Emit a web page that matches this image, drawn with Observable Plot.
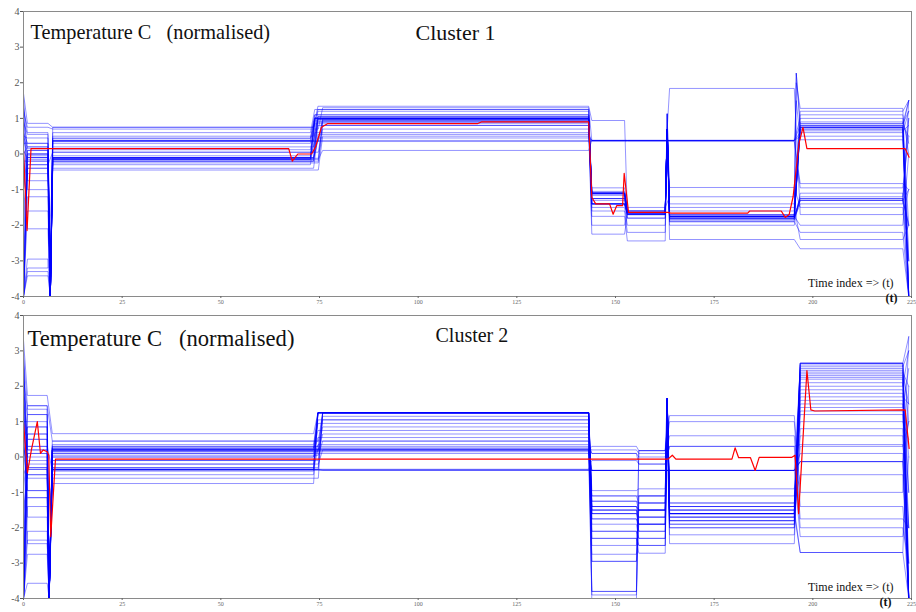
<!DOCTYPE html>
<html><head><meta charset="utf-8">
<script src="https://cdn.jsdelivr.net/npm/d3@7"></script>
<script src="https://cdn.jsdelivr.net/npm/@observablehq/plot@0.6"></script>
<style>body{margin:0;background:#fff} #chart svg{display:block}</style>
</head><body><div id="chart"></div>
<script>
const xTicks = [0, 25, 50, 75, 100, 125, 150, 175, 200, 225];
const yTicks = [-4, -3, -2, -1, 0, 1, 2, 3, 4];
const titleText = "Temperature C\u00a0\u00a0\u00a0(normalised)";
const clusterNames = ["Cluster 1", "Cluster 2"];
const timeLabel = "Time index => (t)";
const tLabel = "(t)";

// segment times (time index) where the step levels hold, per cluster
const cluster1Knots = {e0: 1, e1: 6.2, sp: 6.8, m0: 7.4, b4: 152.3, b5: 153};
const cluster2Knots = {e0: 1, e1: 6.0, sp: 6.5, m0: 7.3, b4: 155.3, b5: 155.9};

// each row: [t0, lvl 1-6, dip@6.7, lvl 7-73, step time, lvl 75-143, lvl 144-152, lvl 153-162, spike@163, lvl 164-195, spike@195.8, lvl 197-222, end]
const cluster1Lines = [
  [1.7, 0.86, null, 0.75, 74.6, 1.34, 0.94, -1.65, 0.7, -1.75, null, 0.75, 1.5],
  [1.2, 0.75, null, 0.7, 75.8, 1.3, 0.38, 0.38, null, 0.38, null, 0.8, 0.5],
  [0.9, 0.55, -4, 0.6, 73.8, 1.25, -1.1, -1.65, 0.7, -1.75, null, 0.75, -4],
  [0.5, 0.45, -4, 0.5, 74.6, 1.2, -1.1, -1.6, 0.7, -1.8, 2.27, 0.85, 1.2],
  [0.3, 0.3, -4, 0.43, 73.8, 1.1, -1.15, -1.65, 0.7, -1.75, null, 0.7, -3.9],
  [0, 0.2, -4, 0.38, 74.6, 1.05, -1.25, -1.7, 0.7, -1.85, null, -1.3, 1.0],
  [-0.5, 0.1, -4, 0.35, 75.8, 1.0, -1.4, -1.65, 0.7, -1.8, null, -1.25, -3],
  [-1, 0, -4, 0.3, 73.8, 1.0, -1.4, -1.8, 0.7, -1.9, 2.27, 0.75, -2],
  [-2, -0.1, -4, 0.2, 74.6, 0.97, -1.1, -1.65, 0.7, -1.75, null, 0.9, 0.3],
  [-4, -0.2, -4, 0.12, 73.8, 0.95, -1.5, -2.0, 1.13, -2.0, null, -1.1, -4],
  [-4, -0.3, null, 0.05, 74.6, 1.0, -1.05, -1.65, 0.7, -1.7, null, 0.65, 0.8],
  [-3, -0.4, -4, -0.05, 73.8, 1.02, -1.1, -1.6, 0.7, -1.75, null, -1.3, -1],
  [-1.5, -0.55, -4, -0.1, 74.6, 1.0, -1.3, -1.7, 0.7, -1.8, null, 0.8, -4],
  [0.8, -0.75, -4, -0.12, 75.8, 0.9, -1.6, -2.2, 0.7, -2.4, null, -2.66, -4],
  [1.4, -1.0, -4, -0.15, 73.8, 0.85, -1.75, -2.44, 1.13, -1.5, null, -2.4, -2],
  [-4, -1.2, -4, -0.2, 74.6, 0.8, -2.0, -1.65, 0.7, -1.6, 2.0, 1.28, -3],
  [-4, -1.6, -4, -0.25, 75.8, 0.7, -2.25, -1.7, 0.7, -1.4, null, 1.2, 1.5],
  [0.2, -2.1, -4, -0.3, 73.8, 0.6, -0.95, -1.5, null, -1.2, null, 1.1, 0],
  [-4, -2.95, -4, -0.4, 74.6, 0.55, 0.38, 0.38, null, 0.38, null, 1.0, -4],
  [-4, -3.2, null, -0.45, 75.8, 0.5, 0.38, 0.38, null, 0.38, null, 0.6, 1.2],
  [-4, -3.3, -4, -0.15, 74.6, 0.45, 0.38, 0.38, null, 0.38, null, 0.5, -4],
  [-4, -3.42, -4, -0.1, 73.8, 0.35, 0.38, 0.38, null, 0.38, null, -0.83, -1],
  [1.0, 0.2, -4, -0.12, 74.6, 0.38, 0.35, 0.35, null, 0.35, null, -0.95, 0.5],
  [0.5, 0.15, -4, -0.15, 75.8, 0.1, 0.38, 0.38, null, 0.38, 1.5, 0.4, -4],
  [-2.5, 0.0, -4, -0.1, 73.8, 1.0, -1.1, -1.65, 0.7, -1.75, null, -1.2, 1.0],
  [1.6, -0.1, -4, 0.35, 74.6, 1.05, -1.4, -1.65, 0.7, -1.85, null, 0.75, -3],
  [-0.2, -0.2, -4, 0.38, 75.8, 0.95, -1.1, -1.65, 0.7, -1.75, null, -1.3, -2],
  [0.6, 0.3, -4, -0.12, 73.8, 1.0, -1.15, -1.6, 0.7, -1.7, null, 0.7, -4],
  [-4, -0.3, -4, -0.2, 74.6, 0.9, -1.4, -1.7, 0.7, -1.8, null, -1.4, 1.5],
  [-1, 0.1, -4, 0.45, 73.8, 1.1, -1.25, -1.65, 0.7, -0.94, null, -1.5, -4],
  [-3.5, -0.4, -4, 0.05, 75.8, 0.8, -1.1, -1.8, 0.7, 1.84, null, -1.7, -1],
  [1.3, 0.6, -4, 0.75, 74.6, 1.25, -1.4, -1.65, 0.7, -1.75, null, -2.0, 0],
  [0.1, -0.15, -4, -0.15, 73.8, 1.0, -1.1, -1.6, 0.7, -1.9, null, -2.2, -4],
  [-4, -0.1, -4, -0.1, 74.6, 0.97, -1.25, -1.65, 0.7, -1.75, null, 0.85, 1.5],
  [0.4, 0.0, -4, -0.2, 75.8, 0.95, -1.1, -1.65, 1.13, -1.75, null, 0.75, -4],
  [-4, -0.05, -4, 0.38, 73.8, 0.9, -1.4, -1.7, 0.7, -1.8, null, -1.25, -2]
];

const cluster2Lines = [
  [3.3, 1.74, null, 0.66, 74.6, 1.25, -0.95, -0.9, 1.65, -1.3, null, 2.65, 3.4],
  [2.8, 1.45, null, 0.45, 75.8, 1.25, -1.1, -1.1, 1.65, -1.5, null, 2.65, 1],
  [2.2, 1.35, -4, 0.35, 74.6, 1.25, -1.25, -1.3, 1.65, -1.6, null, 2.5, -4],
  [1.8, 1.2, -4, 0.3, 75.8, 1.15, -1.4, -1.5, 1.65, -1.7, null, 2.4, 2],
  [1.0, 1.0, -4, 0.25, 74.6, 1.05, -1.5, -1.7, 1.65, -1.8, null, 2.3, -2],
  [0.5, 0.85, -4, 0.2, 74.6, 0.95, -1.6, -1.9, 1.65, -1.9, null, 2.2, 0],
  [0, 0.65, -4, 0.2, 75.8, 0.85, -1.75, -2.1, 1.0, -2.0, null, 2.1, -4],
  [-1, 0.5, -4, 0.2, 74.6, 0.75, -1.9, -2.3, 0.8, -2.2, null, 2.0, 3],
  [-2, 0.3, -4, 0.15, 75.8, 0.65, -2.1, -2.5, 0.8, -2.45, null, 1.9, -3],
  [-4, 0.1, -4, 0.1, 74.6, 0.55, -2.3, -2.72, 1.65, -1.6, null, 1.8, -4],
  [-4, -0.1, -4, 0.05, 75.8, 0.45, -2.5, -1.5, 1.65, -1.6, null, 1.7, 1.5],
  [-3, -0.3, -4, 0, 74.6, 0.35, -2.75, -1.7, 1.65, -1.4, null, 1.6, -1],
  [-1.5, -0.5, -4, -0.1, 74.6, 0.25, -2.95, -1.9, 1.65, -1.5, null, 1.5, -4],
  [3.0, -0.6, -4, -0.2, 75.8, 0.2, -3.8, -1.3, 1.65, -1.7, null, 1.4, 2.5],
  [2.5, -0.95, -4, -0.3, 74.6, 0.2, -4.05, -1.1, 1.65, -1.9, null, 1.3, -2],
  [-4, -1.15, -4, -0.35, 74.6, 1.25, -3.9, 0.18, 0.8, -1.1, null, 1.2, -4],
  [-4, -1.4, -4, -0.35, 75.8, 1.25, -1.5, -2.1, 1.65, -0.9, null, 1.0, 0.5],
  [1.5, -1.7, -4, -0.4, 74.6, 1.25, -1.6, -1.7, 1.65, -2.0, null, 0.8, -4],
  [-4, -2.1, -4, -0.5, 74.6, 1.25, -1.4, -1.5, 1.65, -1.6, null, 0.6, -3],
  [-4, -2.35, -4, -0.6, 75.8, 1.25, -1.75, -1.9, 1.65, -1.8, null, 0.3, 1],
  [2.0, -2.45, -4, -0.75, 74.6, 1.25, -2.1, -2.3, 1.65, -1.3, null, -0.5, -4],
  [-4, -2.75, -4, 0.2, 74.6, 0.2, 0.3, 0.18, null, 1.17, null, -1.0, 3.4],
  [-4, -3.57, -4, 0.25, 75.8, 0.25, 0.2, 0.1, null, 1.0, null, -1.4, -4],
  [1.2, 0.2, -4, 0.3, 74.6, 0.3, 0.1, 0, null, 0.6, null, -1.75, -2],
  [0.8, 0.0, -4, -0.35, 74.6, -0.35, -0.38, -0.38, null, -0.38, null, -0.13, -4],
  [-0.5, -0.2, -4, -0.35, 75.8, -0.38, -0.38, -0.38, null, -0.38, null, -0.13, 1],
  [2.6, 0.3, null, -0.38, 74.6, -0.38, -0.38, -0.38, null, -0.38, null, -0.13, -4],
  [-4, -0.35, -4, -0.35, 74.6, -0.35, -0.1, -0.2, null, 0.3, null, -2.0, -3],
  [1.6, 0.2, -4, 0.2, 75.8, 0.2, -0.38, -0.38, null, -0.38, null, -2.25, 0],
  [-2.5, 0.1, -4, 0.1, 74.6, 0.1, -1.1, -1.3, 1.65, -1.5, null, -2.7, -4],
  [0.3, -0.3, -4, 0.25, 74.6, 1.25, -1.25, -1.5, 1.65, -1.6, null, -2.7, 2],
  [-4, -0.35, -4, 0.2, 75.8, 1.25, -1.5, -1.5, 1.65, -1.6, null, 2.65, -4],
  [1.7, 0.5, -4, -0.35, 74.6, 1.25, -2.95, -1.1, 1.65, -1.4, null, 2.65, -1],
  [-4, 0.85, -4, -0.2, 74.6, 1.25, -3.8, 0.18, 1.65, -1.7, null, 2.6, -4],
  [0.6, -1.15, -4, -0.3, 75.8, 1.25, -1.4, -1.9, 1.65, -1.8, null, 2.55, 3],
  [-3.5, 1.2, -4, 0.15, 74.6, 0.15, -0.38, -0.38, null, -0.38, null, 2.45, -4],
  [2.9, -0.5, -4, 0.0, 74.6, 1.25, -1.6, -1.5, 1.65, -1.6, null, 2.35, 1.5],
  [-4, 0.65, -4, -0.1, 75.8, 1.05, -2.3, -2.5, 1.65, -1.4, null, 2.25, -4],
  [0.2, -0.95, -4, 0.45, 74.6, 0.45, 0.1, -0.2, null, 0.3, null, 0.35, -2],
  [-4, 1.45, -4, 0.2, 74.6, 0.2, -0.38, -0.38, null, -0.38, null, 0.1, -4]
];

const cluster1Red = [[0,0.1],[0.9,-2.15],[1.9,0.15],[67.2,0.15],[68.1,-0.2],[69.5,0],[73,0],[74,0.2],[75.5,0.75],[77,0.85],[115,0.85],[116,0.9],[143.2,0.9],[144,-1.22],[145,-1.4],[148.5,-1.4],[149.4,-1.69],[150.3,-1.45],[151.8,-1.45],[152.2,-0.54],[153.3,-1.64],[163.3,-1.64],[164,-1.66],[183.5,-1.66],[184,-1.6],[192,-1.6],[193,-1.78],[194,-1.7],[195,-1.2],[196.5,0.3],[197.5,0.75],[198.5,0.15],[223.4,0.15],[224.4,-0.09]];
const cluster2Red = [[0,0.97],[1,-0.45],[2,0.2],[3.5,1.0],[4.3,0.1],[5,0.2],[6,0.15],[6.4,0.05],[6.9,-2.25],[8.1,-0.06],[143.2,-0.06],[163.3,-0.06],[164.4,0.05],[165.3,-0.06],[179.5,-0.06],[180.3,0.26],[181.2,-0.02],[184.2,-0.02],[185.4,-0.38],[186.4,-0.01],[194.7,-0.01],[195.5,0.05],[196.4,-1.6],[198.5,2.44],[199.5,1.33],[200.5,1.3],[223.4,1.33],[224.4,0.24]];

function buildRows(lines, k) {
  const rows = [];
  lines.forEach((r, id) => {
    const [a0, a1, sp, a2, step, a3, a4, a5, s163, a6, s195, a7, end] = r;
    const pts = [[0, a0], [k.e0, a1], [k.e1, a1]];
    if (sp !== null) pts.push([k.sp, sp]);
    pts.push([k.m0, a2], [step - 1.1, a2], [step, a3], [143.2, a3], [144, a4], [k.b4, a4], [k.b5, a5], [162.6, a5]);
    if (s163 !== null) pts.push([163.1, s163]);
    pts.push([163.7, a6], [195.3, a6]);
    if (s195 !== null) pts.push([195.8, s195]);
    pts.push([196.8, a7], [222.8, a7], [224.3, end]);
    pts.forEach(([t, v]) => rows.push({id, t, v}));
  });
  return rows;
}

const serif = "Liberation Serif";

function panel(opts) {
  const rows = buildRows(opts.lines, opts.knots);
  const red = opts.red.map(([t, v]) => ({t, v}));
  return Plot.plot({
    width: 916,
    height: opts.height,
    marginLeft: 23, marginRight: 5,
    marginTop: opts.mt, marginBottom: opts.mb,
    style: {fontFamily: serif, background: "#fff", overflow: "visible"},
    x: {domain: [0, 225], label: null},
    y: {domain: [-4, 4], label: null},
    marks: [
      Plot.line(rows, {x: "t", y: "v", z: "id", stroke: "#0000ff", strokeOpacity: 0.42, strokeWidth: 1, clip: true}),
      Plot.line(red, {x: "t", y: "v", stroke: "#ff0000", strokeWidth: 1.2, clip: true}),
      Plot.frame({stroke: "#8a8a8a", strokeWidth: 1}),
      Plot.axisY({ticks: yTicks, label: null, tickSize: 3, tickPadding: 1, fontSize: 10, color: "#555", tickFormat: d => String(d)}),
      Plot.axisX({ticks: xTicks, label: null, tickSize: 2, tickPadding: 1, fontSize: 6, color: "#666", tickFormat: d => String(d)}),
      Plot.text([titleText], {frameAnchor: "top-left", textAnchor: "start", dx: opts.tdx, dy: opts.tdy, fontSize: opts.tsize, fill: "#111"}),
      Plot.text([opts.cluster], {frameAnchor: "top-left", textAnchor: "start", dx: opts.cdx, dy: opts.cdy, fontSize: opts.csize, fill: "#111"}),
      Plot.text([timeLabel], {frameAnchor: "bottom-right", textAnchor: "end", dx: -18, dy: opts.ldy, fontSize: 12, fill: "#111"}),
      Plot.text([tLabel], {frameAnchor: "bottom-right", textAnchor: "middle", dx: opts.pdx, dy: opts.pdy, fontSize: 12, fontWeight: "bold", fill: "#111"})
    ]
  });
}

const chart = document.getElementById("chart");
chart.appendChild(panel({lines: cluster1Lines, red: cluster1Red, knots: cluster1Knots, height: 306, mt: 11, mb: 10,
  tsize: 20.3, tdx: 7, tdy: 13, cluster: clusterNames[0], csize: 22, cdx: 392, cdy: 13, ldy: -10, pdx: -20, pdy: 5}));
chart.appendChild(panel({lines: cluster2Lines, red: cluster2Red, knots: cluster2Knots, height: 306, mt: 9, mb: 14,
  tsize: 22.6, tdx: 4, tdy: 14, cluster: clusterNames[1], csize: 20, cdx: 412, cdy: 12, ldy: -8, pdx: -26, pdy: 7}));
</script>
</body></html>
